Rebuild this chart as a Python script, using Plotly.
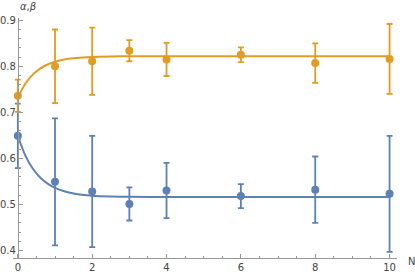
import plotly.graph_objects as go

# Measured data points
n_vals = [0, 1, 2, 3, 4, 6, 8, 10]
alpha = [0.736, 0.800, 0.811, 0.834, 0.815, 0.825, 0.807, 0.816]
alpha_err = [0.035, 0.080, 0.073, 0.023, 0.036, 0.016, 0.043, 0.076]
beta = [0.649, 0.549, 0.528, 0.501, 0.530, 0.518, 0.532, 0.523]
beta_err = [0.070, 0.138, 0.121, 0.036, 0.060, 0.026, 0.072, 0.126]

# Fitted curves
curve_n = [0, 0.2, 0.4, 0.6, 0.8, 1.0, 1.25, 1.5, 2, 2.5, 3, 4, 6, 10]
alpha_curve = [0.732, 0.762, 0.782, 0.795, 0.804, 0.810, 0.815, 0.8175, 0.8204, 0.8214, 0.8218, 0.822, 0.822, 0.822]
beta_curve = [0.648, 0.6065, 0.578, 0.5585, 0.5452, 0.536, 0.5285, 0.5238, 0.519, 0.5172, 0.5165, 0.516, 0.516, 0.516]

x_ticks = [0, 2, 4, 6, 8, 10]
y_ticks = [0.4, 0.5, 0.6, 0.7, 0.8, 0.9]

ORANGE = "#E19C24"
BLUE = "#5E81B5"

fig = go.Figure()
fig.add_trace(go.Scatter(x=curve_n, y=beta_curve, mode="lines",
                         line=dict(color=BLUE, width=2, shape="spline", smoothing=0.6),
                         hoverinfo="skip"))
fig.add_trace(go.Scatter(x=curve_n, y=alpha_curve, mode="lines",
                         line=dict(color=ORANGE, width=2, shape="spline", smoothing=0.6),
                         hoverinfo="skip"))
fig.add_trace(go.Scatter(x=n_vals, y=beta, mode="markers",
                         marker=dict(color=BLUE, size=8),
                         error_y=dict(type="data", array=beta_err, color=BLUE, thickness=1.8, width=3),
                         cliponaxis=False))
fig.add_trace(go.Scatter(x=n_vals, y=alpha, mode="markers",
                         marker=dict(color=ORANGE, size=8),
                         error_y=dict(type="data", array=alpha_err, color=ORANGE, thickness=1.8, width=3),
                         cliponaxis=False))

xmin, xmax = -0.13, 10.2
fig.update_layout(
    width=415, height=275,
    margin=dict(l=13, r=18, t=18, b=17),
    paper_bgcolor="white", plot_bgcolor="white",
    showlegend=False,
    font=dict(family="DejaVu Sans", size=10, color="#444"),
    xaxis=dict(range=[xmin, xmax], tickvals=x_ticks, ticks="inside", ticklen=4,
               tickcolor="#999", showline=True, linecolor="#999", linewidth=1,
               showgrid=False, zeroline=False, automargin=False,
               minor=dict(dtick=0.5, tick0=0, ticks="inside", ticklen=2, tickcolor="#999")),
    yaxis=dict(range=[0.3835, 0.905], tickvals=y_ticks, ticks="inside", ticklen=4,
               tickcolor="#999", showline=True, linecolor="#999", linewidth=1,
               showgrid=False, zeroline=False, anchor="free", automargin=False,
               position=(0 - xmin) / (xmax - xmin),
               minor=dict(dtick=0.02, tick0=0.4, ticks="inside", ticklen=2, tickcolor="#999")),
    annotations=[
        dict(text="<i>α</i>,<i>β</i>", x=0, y=0.905, xref="x", yref="y",
             xanchor="left", yanchor="bottom", showarrow=False, yshift=4,
             font=dict(size=10, color="#444")),
        dict(text="N", x=xmax, y=0.3835, xref="x", yref="y",
             xanchor="center", yanchor="middle", showarrow=False, xshift=14, yshift=-3,
             font=dict(size=10, color="#444")),
    ],
)

fig.write_html("out.html", config={"displayModeBar": False},
               post_script="document.body.style.margin='0';document.body.style.overflow='hidden';")
